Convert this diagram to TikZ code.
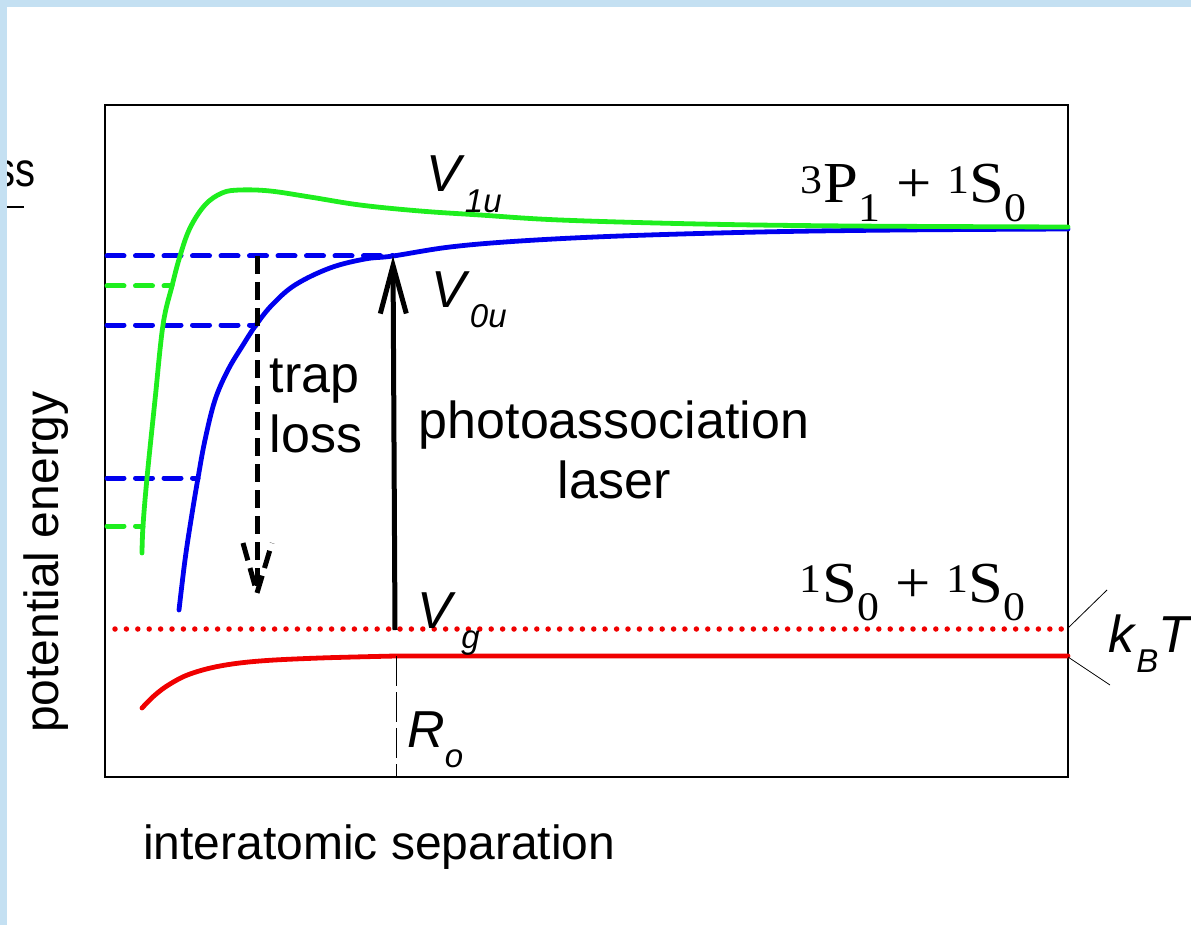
\documentclass[tikz,border=0pt]{standalone}
\usepackage{fontspec}
\setmainfont{Liberation Serif}
\setsansfont{Liberation Sans}
\usetikzlibrary{arrows.meta}

\definecolor{bandblue}{RGB}{196,224,242}
\definecolor{vgreen}{RGB}{30,238,30}
\definecolor{vblue}{RGB}{0,0,238}
\definecolor{vred}{RGB}{240,0,0}

\tikzset{
  potline/.style={line width=4.8pt, line cap=round},
  levelline/.style={line width=5pt, dash pattern=on 17pt off 11.5pt, line cap=round},
  lbl/.style={font=\sffamily\fontsize{52}{60}\selectfont, inner sep=0pt},
  term/.style={font=\rmfamily\fontsize{58}{60}\selectfont, inner sep=0pt, xscale=1.08},
  axislbl/.style={font=\sffamily\fontsize{48}{56}\selectfont, inner sep=0pt}
}
\newcommand{\potname}[2]{\textit{#1}\raisebox{-0.4em}{\fontsize{33}{33}\selectfont\textit{#2}}}

\begin{document}
\begin{tikzpicture}[x=1pt,y=-1pt]
\useasboundingbox (0,0) rectangle (1191,925);
% cut-off text at the left and the slide border
\node[font=\sffamily\fontsize{40}{48}\selectfont, inner sep=0pt, yscale=1.2, anchor=base east] (cut) at (36,187) {ss};
\draw[line width=1.2pt] (0,207) -- (24,207);
\fill[bandblue] (0,0) rectangle (1191,7);
\fill[bandblue] (0,0) rectangle (7,925);
% frame
\draw[line width=2pt] (105,105) rectangle (1068,777);

% points where the levels meet the curves
\coordinate (b1) at (393,256);
\coordinate (b2) at (256,325);
\coordinate (b3) at (198,478);
\coordinate (g1) at (172,286);
\coordinate (g2) at (143,526);
\coordinate (ro) at (396,656);

% vibrational levels
\draw[levelline, vblue] (107,256) -- (b1);
\draw[levelline, vblue] (107,325) -- (b2);
\draw[levelline, vblue] (107,478) -- (b3);
\draw[levelline, vgreen] (107,286) -- (g1);
\draw[levelline, vgreen] (107,526) -- (g2);

% potentials
\draw[potline, vblue] plot[smooth, tension=0.6] coordinates {(179,610) (185,560) (191,520) (b3) (205,440) (215,400) (228,370) (243,345) (b2) (272,305) (295,285) (330,268) (365,259) (b1) (450,247) (520,241) (620,236) (760,232) (900,230) (1068,229)};
\draw[potline, vgreen] plot[smooth, tension=0.6] coordinates {(142,553) (g2) (147,478) (155,400) (163,325) (g1) (180,256) (190,228) (205,205) (222,193) (240,190) (270,191) (310,197) (360,205) (420,211) (480,215) (560,220) (700,224) (850,226) (1068,227)};
\draw[potline, vred] plot[smooth, tension=0.6] coordinates {(142,708) (155,695) (170,684) (190,674) (220,666) (260,661) (320,658) (ro)} -- (1068,656);
\draw[line width=5.5pt, vred, dash pattern=on 0pt off 11.4pt, line cap=round] (115,629) -- (1068,629);

% transitions
\coordinate (tl) at (257,593);
\draw[line width=5pt, dash pattern=on 18pt off 8pt] (257,256) -- (tl);
\draw[line width=5pt, dash pattern=on 18pt off 8pt] (243,543) -- (tl) -- (272,543);
\draw[line width=5pt, -{Straight Barb[length=48pt, width=26pt]}] (395,630) -- (b1);
\draw[line width=1pt, dash pattern=on 30pt off 6pt] (ro) -- (396,777);

% thermal energy
\draw[line width=0.8pt] (1068,628) -- (1107,590);
\draw[line width=0.8pt] (1068,657) -- (1110,685);

% labels
\node[lbl, anchor=base west] (v1u) at (426,192) {\potname{V}{1u}};
\node[lbl, anchor=base west] (v0u) at (431,307) {\potname{V}{0u}};
\node[lbl, anchor=base west] (vg) at (417,628) {\potname{V}{\,g}};
\node[lbl, anchor=base west] (rzero) at (407,747) {\potname{R}{o}};
\node[lbl, anchor=base west] (kbt) at (1108,652) {\potname{k}{B}\textit{T}};
\node[term, anchor=base] (excited) at (914,203) {\textsuperscript{3}P\textsubscript{1} + \textsuperscript{1}S\textsubscript{0}};
\node[term, anchor=base] (ground) at (913,602) {\textsuperscript{1}S\textsubscript{0} + \textsuperscript{1}S\textsubscript{0}};
\node[lbl, align=left] (traploss) at (316,406) {trap\\loss};
\node[lbl, align=center] (pal) at (614,450) {photoassociation\\laser};
\node[axislbl, anchor=base west] (xlbl) at (143,859) {interatomic separation};
\node[axislbl, anchor=base, rotate=90] (ylbl) at (58,562) {potential energy};
\end{tikzpicture}
\end{document}
